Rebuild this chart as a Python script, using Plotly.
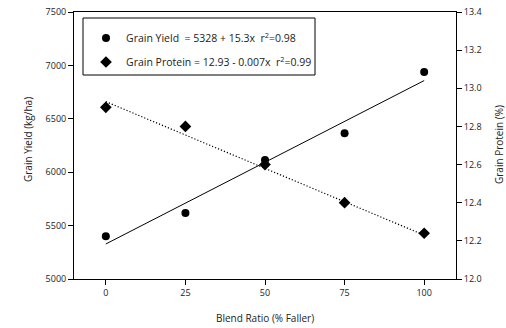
import plotly.graph_objects as go

blend = [0, 25, 50, 75, 100]
grain_yield = [5400, 5617, 6115, 6365, 6938]
grain_protein = [12.90, 12.80, 12.60, 12.40, 12.24]
yield_intercept, yield_slope = 5328, 15.3
protein_intercept, protein_slope = 12.93, -0.007
fit_x = [0, 100]

yield_fit = [yield_intercept + yield_slope * x for x in fit_x]
protein_fit = [protein_intercept + protein_slope * x for x in fit_x]

FONT = "Open Sans"
L, R, T, B = 74, 50, 12, 49
W, H = 506, 328
PW, PH = W - L - R, H - T - B


def px(xp):
    return (xp - L) / PW


def py(yp):
    return (H - B - yp) / PH


fig = go.Figure()
fig.add_trace(go.Scatter(x=fit_x, y=yield_fit, mode="lines",
                         line=dict(color="black", width=1), showlegend=False, hoverinfo="skip"))
fig.add_trace(go.Scatter(x=fit_x, y=protein_fit, mode="lines", yaxis="y2",
                         line=dict(color="black", width=1.2, dash="1.2px,2px"), showlegend=False,
                         hoverinfo="skip"))
fig.add_trace(go.Scatter(x=blend, y=grain_yield, mode="markers", legendgroup="a",
                         name="Grain Yield  = 5328 + 15.3x  r<sup>2</sup>=0.98",
                         marker=dict(symbol="circle", size=8, color="black")))
fig.add_trace(go.Scatter(x=blend, y=grain_protein, mode="markers", yaxis="y2", legendgroup="b",
                         name="Grain Protein = 12.93 - 0.007x  r<sup>2</sup>=0.99",
                         marker=dict(symbol="diamond", size=9, color="black")))

axis_common = dict(showline=True, linecolor="black", linewidth=1, ticks="outside",
                   ticklen=5, tickcolor="black", showgrid=False, zeroline=False,
                   automargin=False,
                   tickfont=dict(family=FONT, size=9, color="#222"))

title_font = dict(family=FONT, size=10, color="#222")
annotations = [
    dict(text="Blend Ratio (% Faller)", xref="paper", yref="paper",
         x=px(265), y=py(318), showarrow=False,
         xanchor="center", yanchor="middle", font=title_font),
    dict(text="Grain Yield (kg/ha)", xref="paper", yref="paper",
         x=px(28), y=py(140), showarrow=False, textangle=-90,
         xanchor="center", yanchor="middle", font=title_font),
    dict(text="Grain Protein (%)", xref="paper", yref="paper",
         x=px(499), y=py(144), showarrow=False, textangle=-90,
         xanchor="center", yanchor="middle", font=title_font),
]

shapes = [
    dict(type="rect", xref="paper", yref="paper", x0=px(83), x1=px(315), y0=py(75), y1=py(18),
         line=dict(color="black", width=1), fillcolor="white", layer="above"),
]

fig.update_layout(
    width=W, height=H,
    margin=dict(l=L, r=R, t=T, b=B),
    plot_bgcolor="white", paper_bgcolor="white",
    font=dict(family=FONT, size=10, color="#222"),
    xaxis=dict(range=[-10, 110], tickvals=[0, 25, 50, 75, 100], mirror=True, **axis_common),
    yaxis=dict(range=[5000, 7500], tickvals=[5000, 5500, 6000, 6500, 7000, 7500], **axis_common),
    yaxis2=dict(range=[12.0, 13.4], tickvals=[12.0, 12.2, 12.4, 12.6, 12.8, 13.0, 13.2, 13.4],
                tickformat=".1f", overlaying="y", side="right", **axis_common),
    legend=dict(x=px(86), y=py(23.5), xanchor="left", yanchor="top",
                borderwidth=0, bgcolor="rgba(0,0,0,0)",
                font=dict(family=FONT, size=10.5, color="#222"),
                itemwidth=30, tracegroupgap=5),
    annotations=annotations,
    shapes=shapes,
)

fig.write_html("out.html", config={"displayModeBar": False},
               post_script="document.body.style.margin='0';document.body.style.padding='0';")
